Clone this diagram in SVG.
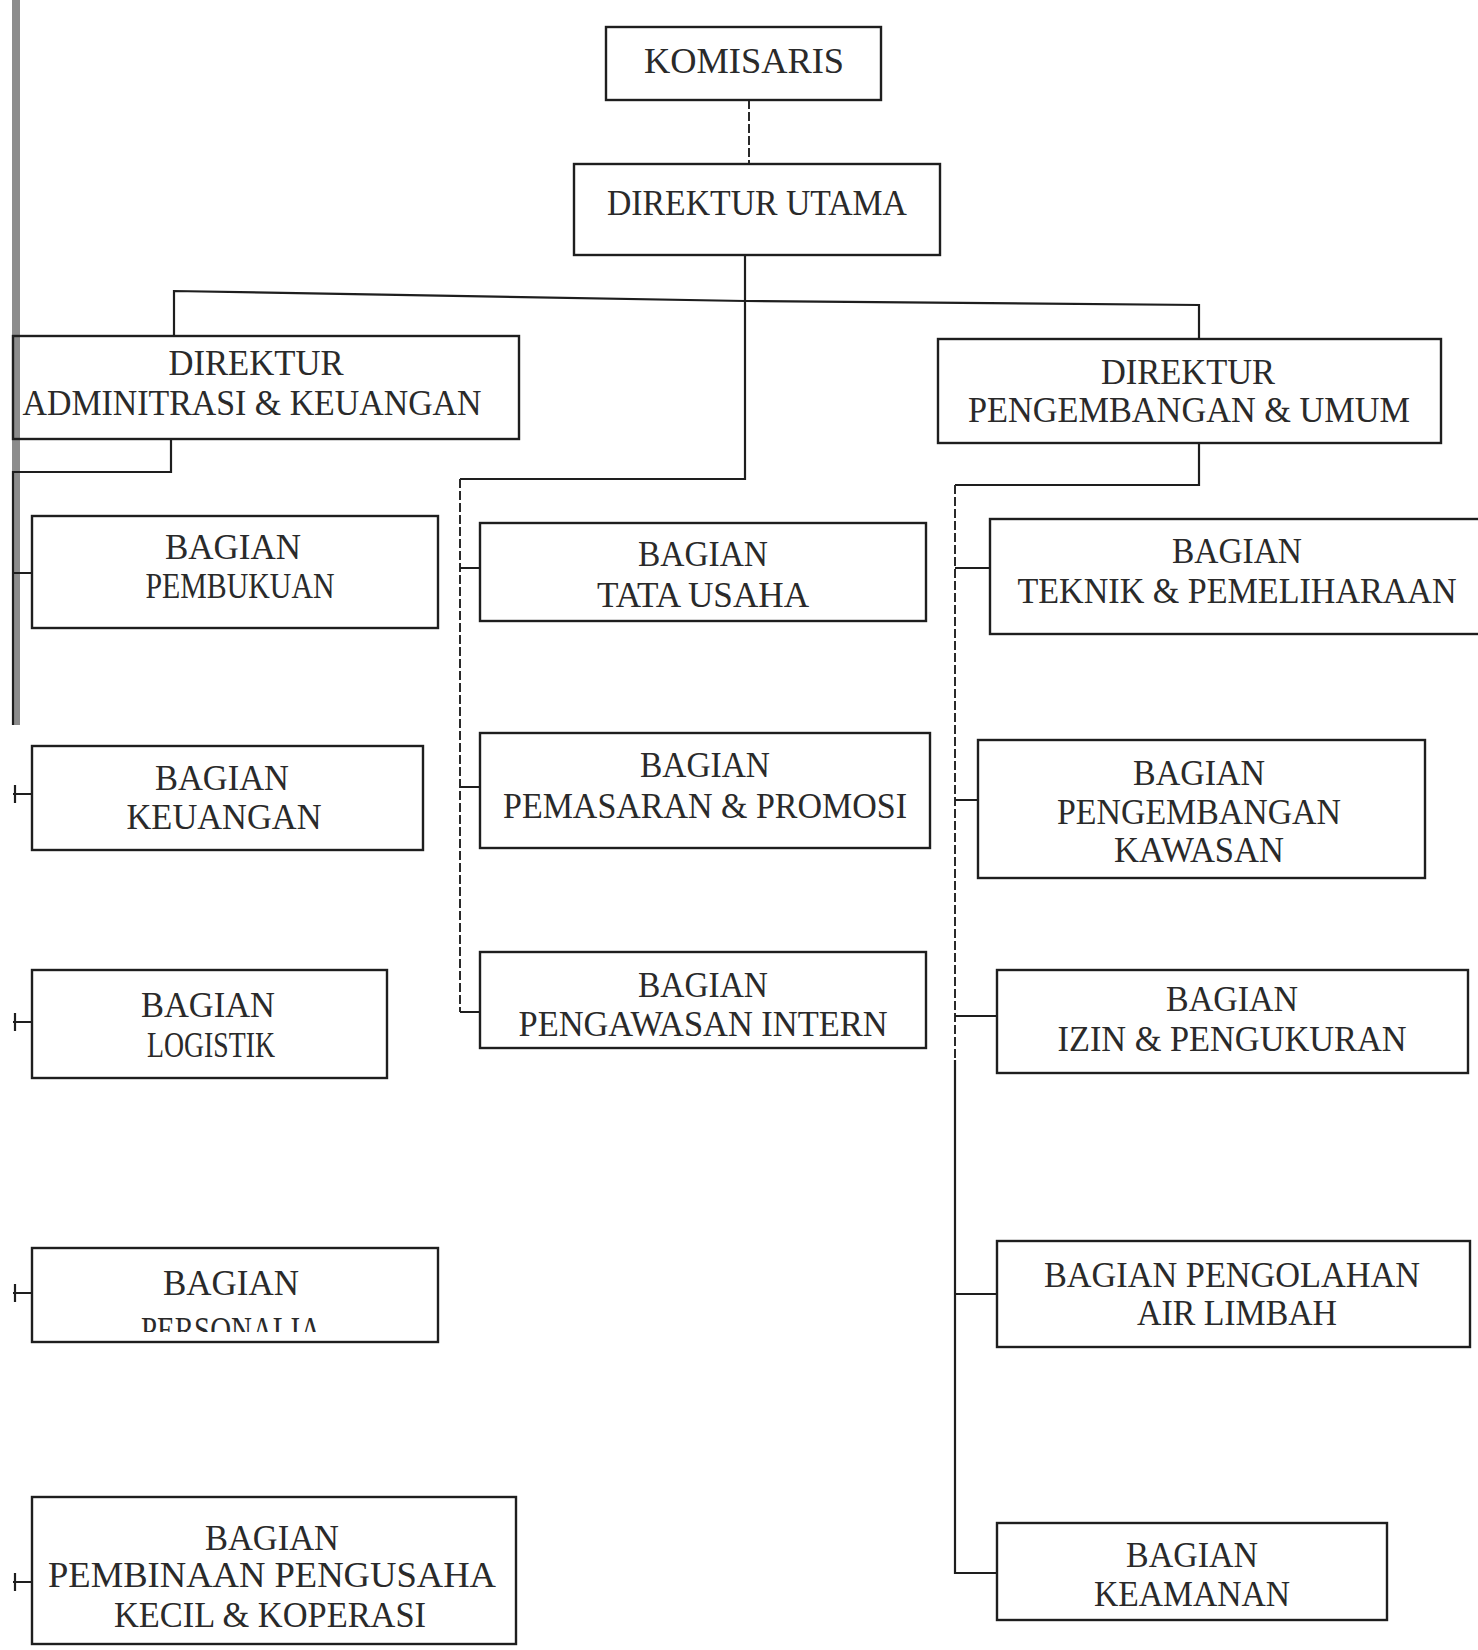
<svg xmlns="http://www.w3.org/2000/svg" width="1478" height="1650" viewBox="0 0 1478 1650">
<style>
.box{fill:none;stroke:#1e1e1e;stroke-width:2.4}
.ln{fill:none;stroke:#1e1e1e;stroke-width:2.2}
.dl{fill:none;stroke:#2a2a2a;stroke-width:2;stroke-dasharray:9 3}
text{font-family:"Liberation Serif","Times New Roman",serif;font-size:35px;fill:#2a2a2a;text-anchor:middle}
</style>
<defs>
<clipPath id="clipPers"><rect x="32" y="1248" width="406" height="84"/></clipPath>
</defs>
<rect x="0" y="0" width="1478" height="1650" fill="#ffffff"/>
<rect x="12" y="0" width="8" height="725" fill="#8c8c8c"/>
<g id="connectors">
<path class="dl" d="M749 100 V164"/>
<path class="ln" d="M745 255 V479 H460"/>
<path class="dl" d="M460 479 V1012"/>
<path class="ln" d="M460 1012 H480 M460 568 H480 M460 787 H480"/>
<path class="ln" d="M174 335 V291 L745 301 L1199 305 V339"/>
<path class="ln" d="M171 439 V472 H13 V725"/>
<path class="ln" d="M13 573 H32 M13 794 H32 M13 1022 H32 M13 1293 H32 M13 1582 H32"/>
<path class="ln" d="M15 785 V803 M15 1013 V1031 M15 1284 V1302 M15 1573 V1591"/>
<path class="ln" d="M1199 443 V485 H955"/>
<path class="dl" d="M955 485 V1060"/>
<path class="ln" d="M955 1060 V1573 H997"/>
<path class="ln" d="M955 568 H990 M955 800 H978 M955 1016 H997 M955 1294 H997"/>
</g>
<g id="komisaris"><rect class="box" x="606" y="27" width="275" height="73"/><text x="744" y="73" textLength="200" lengthAdjust="spacingAndGlyphs">KOMISARIS</text></g>
<g id="direktur-utama"><rect class="box" x="574" y="164" width="366" height="91"/><text x="757" y="215" textLength="300" lengthAdjust="spacingAndGlyphs">DIREKTUR UTAMA</text></g>
<g id="direktur-adm"><rect class="box" x="13" y="336" width="506" height="103"/><text x="256" y="375" textLength="175" lengthAdjust="spacingAndGlyphs">DIREKTUR</text><text x="252" y="415" textLength="459" lengthAdjust="spacingAndGlyphs">ADMINITRASI &amp; KEUANGAN</text></g>
<g id="direktur-pengembangan"><rect class="box" x="938" y="339" width="503" height="104"/><text x="1188" y="384" textLength="174" lengthAdjust="spacingAndGlyphs">DIREKTUR</text><text x="1189" y="422" textLength="442" lengthAdjust="spacingAndGlyphs">PENGEMBANGAN &amp; UMUM</text></g>
<g id="pembukuan"><rect class="box" x="32" y="516" width="406" height="112"/><text x="233" y="559" textLength="136" lengthAdjust="spacingAndGlyphs">BAGIAN</text><text x="240" y="598" textLength="189" lengthAdjust="spacingAndGlyphs">PEMBUKUAN</text></g>
<g id="keuangan"><rect class="box" x="32" y="746" width="391" height="104"/><text x="222" y="790" textLength="134" lengthAdjust="spacingAndGlyphs">BAGIAN</text><text x="224" y="829" textLength="195" lengthAdjust="spacingAndGlyphs">KEUANGAN</text></g>
<g id="logistik"><rect class="box" x="32" y="970" width="355" height="108"/><text x="208" y="1017" textLength="134" lengthAdjust="spacingAndGlyphs">BAGIAN</text><text x="211" y="1057" textLength="128" lengthAdjust="spacingAndGlyphs">LOGISTIK</text></g>
<g id="personalia"><rect class="box" x="32" y="1248" width="406" height="94"/><text x="231" y="1295" textLength="136" lengthAdjust="spacingAndGlyphs">BAGIAN</text><text x="231" y="1342" textLength="180" lengthAdjust="spacingAndGlyphs" clip-path="url(#clipPers)">PERSONALIA</text></g>
<g id="pembinaan"><rect class="box" x="32" y="1497" width="484" height="147"/><text x="272" y="1550" textLength="134" lengthAdjust="spacingAndGlyphs">BAGIAN</text><text x="272" y="1587" textLength="448" lengthAdjust="spacingAndGlyphs">PEMBINAAN PENGUSAHA</text><text x="270" y="1627" textLength="312" lengthAdjust="spacingAndGlyphs">KECIL &amp; KOPERASI</text></g>
<g id="tata-usaha"><rect class="box" x="480" y="523" width="446" height="98"/><text x="703" y="566" textLength="130" lengthAdjust="spacingAndGlyphs">BAGIAN</text><text x="703" y="607" textLength="212" lengthAdjust="spacingAndGlyphs">TATA USAHA</text></g>
<g id="pemasaran"><rect class="box" x="480" y="733" width="450" height="115"/><text x="705" y="777" textLength="130" lengthAdjust="spacingAndGlyphs">BAGIAN</text><text x="705" y="818" textLength="404" lengthAdjust="spacingAndGlyphs">PEMASARAN &amp; PROMOSI</text></g>
<g id="pengawasan"><rect class="box" x="480" y="952" width="446" height="96"/><text x="703" y="997" textLength="130" lengthAdjust="spacingAndGlyphs">BAGIAN</text><text x="703" y="1036" textLength="369" lengthAdjust="spacingAndGlyphs">PENGAWASAN INTERN</text></g>
<g id="teknik"><rect class="box" x="990" y="519" width="500" height="115"/><text x="1237" y="563" textLength="130" lengthAdjust="spacingAndGlyphs">BAGIAN</text><text x="1237" y="603" textLength="439" lengthAdjust="spacingAndGlyphs">TEKNIK &amp; PEMELIHARAAN</text></g>
<g id="pengembangan-kawasan"><rect class="box" x="978" y="740" width="447" height="138"/><text x="1199" y="785" textLength="132" lengthAdjust="spacingAndGlyphs">BAGIAN</text><text x="1199" y="824" textLength="284" lengthAdjust="spacingAndGlyphs">PENGEMBANGAN</text><text x="1199" y="862" textLength="170" lengthAdjust="spacingAndGlyphs">KAWASAN</text></g>
<g id="izin"><rect class="box" x="997" y="970" width="471" height="103"/><text x="1232" y="1011" textLength="132" lengthAdjust="spacingAndGlyphs">BAGIAN</text><text x="1232" y="1051" textLength="349" lengthAdjust="spacingAndGlyphs">IZIN &amp; PENGUKURAN</text></g>
<g id="pengolahan"><rect class="box" x="997" y="1241" width="473" height="106"/><text x="1232" y="1287" textLength="376" lengthAdjust="spacingAndGlyphs">BAGIAN PENGOLAHAN</text><text x="1237" y="1325" textLength="200" lengthAdjust="spacingAndGlyphs">AIR LIMBAH</text></g>
<g id="keamanan"><rect class="box" x="997" y="1523" width="390" height="97"/><text x="1192" y="1567" textLength="132" lengthAdjust="spacingAndGlyphs">BAGIAN</text><text x="1192" y="1606" textLength="196" lengthAdjust="spacingAndGlyphs">KEAMANAN</text></g>
</svg>
